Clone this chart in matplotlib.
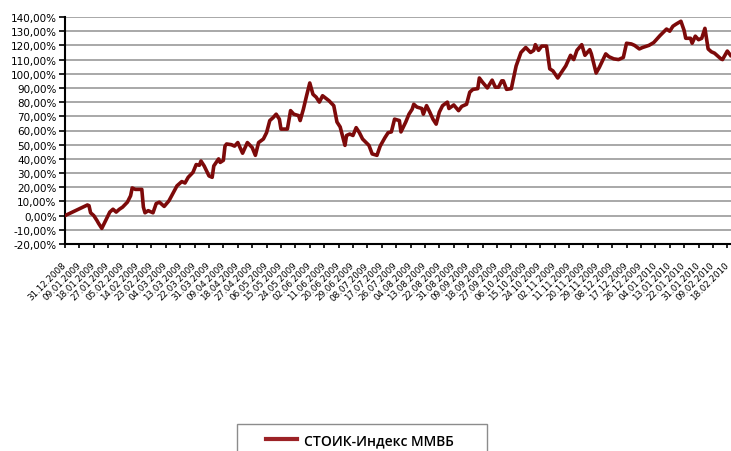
import matplotlib
matplotlib.use("Agg")
from matplotlib import pyplot as plt
from matplotlib import dates as mdates
from matplotlib.patches import Rectangle
from matplotlib.ticker import FuncFormatter, MultipleLocator
import pandas as pd

# values (% change from 31.12.2008)
dates = [
    "2008-12-31", "2009-01-12", "2009-01-14", "2009-01-15", "2009-01-16", "2009-01-18",
    "2009-01-20", "2009-01-21", "2009-01-23", "2009-01-26", "2009-01-28", "2009-01-30",
    "2009-02-01", "2009-02-03", "2009-02-05", "2009-02-08", "2009-02-10", "2009-02-11",
    "2009-02-13", "2009-02-17", "2009-02-18", "2009-02-19", "2009-02-21", "2009-02-24",
    "2009-02-26", "2009-02-28", "2009-03-03", "2009-03-06", "2009-03-10", "2009-03-11",
    "2009-03-14", "2009-03-16", "2009-03-18", "2009-03-21", "2009-03-23", "2009-03-25",
    "2009-03-26", "2009-03-28", "2009-03-31", "2009-04-02", "2009-04-03", "2009-04-06",
    "2009-04-07", "2009-04-09", "2009-04-10", "2009-04-11", "2009-04-14", "2009-04-16",
    "2009-04-18", "2009-04-19", "2009-04-21", "2009-04-24", "2009-04-27", "2009-04-29",
    "2009-05-01", "2009-05-04", "2009-05-06", "2009-05-08", "2009-05-10", "2009-05-12",
    "2009-05-14", "2009-05-15", "2009-05-19", "2009-05-21", "2009-05-23", "2009-05-26",
    "2009-05-27", "2009-05-29", "2009-05-31", "2009-06-02", "2009-06-04", "2009-06-06",
    "2009-06-08", "2009-06-10", "2009-06-14", "2009-06-17", "2009-06-19", "2009-06-21",
    "2009-06-23", "2009-06-24", "2009-06-25", "2009-06-27", "2009-06-29", "2009-07-01",
    "2009-07-03", "2009-07-05", "2009-07-09", "2009-07-11", "2009-07-14", "2009-07-16",
    "2009-07-19", "2009-07-21", "2009-07-23", "2009-07-25", "2009-07-28", "2009-07-29",
    "2009-08-01", "2009-08-03", "2009-08-05", "2009-08-06", "2009-08-08", "2009-08-11",
    "2009-08-12", "2009-08-14", "2009-08-16", "2009-08-18", "2009-08-20", "2009-08-22",
    "2009-08-24", "2009-08-27", "2009-08-28", "2009-08-31", "2009-09-03", "2009-09-05",
    "2009-09-08", "2009-09-10", "2009-09-12", "2009-09-15", "2009-09-16", "2009-09-18",
    "2009-09-21", "2009-09-24", "2009-09-26", "2009-09-28", "2009-09-30", "2009-10-01",
    "2009-10-03", "2009-10-06", "2009-10-07", "2009-10-09", "2009-10-12", "2009-10-15",
    "2009-10-18", "2009-10-20", "2009-10-21", "2009-10-23", "2009-10-25", "2009-10-28",
    "2009-10-30", "2009-11-01", "2009-11-04", "2009-11-06", "2009-11-09", "2009-11-12",
    "2009-11-14", "2009-11-16", "2009-11-19", "2009-11-21", "2009-11-24", "2009-11-25",
    "2009-11-28", "2009-11-30", "2009-12-04", "2009-12-06", "2009-12-09", "2009-12-12",
    "2009-12-15", "2009-12-17", "2009-12-20", "2009-12-22", "2009-12-25", "2009-12-27",
    "2009-12-31", "2010-01-03", "2010-01-07", "2010-01-11", "2010-01-13", "2010-01-15",
    "2010-01-17", "2010-01-20", "2010-01-22", "2010-01-23", "2010-01-26", "2010-01-27",
    "2010-01-29", "2010-01-31", "2010-02-02", "2010-02-04", "2010-02-06", "2010-02-08",
    "2010-02-10", "2010-02-12", "2010-02-14", "2010-02-15", "2010-02-18", "2010-02-20",
]
values = [
    0.0, 6.5, 7.5, 7.0, 2.0, 0.0,
    -3.5, -5.5, -9.0, -2.0, 2.5, 4.5,
    2.5, 4.5, 6.0, 9.5, 14.0, 19.5,
    18.5, 18.5, 6.0, 2.0, 3.5, 2.0,
    8.5, 9.5, 6.5, 10.5, 19.0, 21.0,
    24.0, 23.0, 27.0, 30.5, 36.0, 35.5,
    38.5, 35.0, 28.0, 27.0, 35.0, 40.0,
    37.5, 39.0, 49.0, 50.5, 50.0, 49.0,
    51.5, 49.0, 44.0, 51.5, 48.0, 42.5,
    51.5, 54.0, 58.5, 67.0, 69.0, 71.5,
    68.0, 61.0, 61.0, 74.0, 71.5, 70.5,
    67.0, 75.0, 84.5, 93.5, 85.5, 83.5,
    80.0, 84.5, 81.0, 77.5, 66.0, 62.5,
    54.0, 49.5, 56.5, 57.5, 56.5, 62.0,
    58.5, 54.0, 49.5, 43.5, 42.5, 49.0,
    55.0, 58.5, 59.0, 68.0, 67.0, 59.0,
    66.0, 71.5, 75.0, 78.5, 76.5, 75.5,
    71.5, 77.5, 73.0, 68.0, 64.5, 73.0,
    77.5, 80.0, 75.5, 78.0, 74.0, 77.0,
    78.5, 87.0, 89.0, 89.5, 97.0, 94.0,
    90.0, 95.5, 90.5, 90.5, 95.0, 95.0,
    89.0, 89.5, 95.0, 105.5, 115.0, 118.5,
    115.0, 116.5, 120.5, 116.5, 119.5, 119.5,
    103.5, 102.0, 97.0, 100.5, 105.5, 113.0,
    110.0, 116.5, 120.5, 113.0, 117.0, 114.0,
    100.5, 104.5, 114.0, 112.0, 110.5, 110.0,
    111.5, 121.5, 121.0, 120.0, 117.5, 118.5,
    120.0, 122.0, 127.0, 131.5, 130.0, 133.5,
    135.0, 137.0, 130.5, 125.0, 125.0, 121.5,
    126.5, 124.0, 125.0, 132.0, 117.5, 115.5,
    114.5, 112.5, 110.5, 110.0, 116.0, 113.0,
]
series_name = "СТОИК-Индекс ММВБ"

x = pd.to_datetime(dates)
ticks = pd.date_range("2008-12-31", "2010-02-18", freq="9D")

fig = plt.figure(figsize=(7.31, 4.52), dpi=100)
ax = fig.add_axes([65 / 731, 1 - 245 / 452, 1 - 65 / 731, 227 / 452])

ax.plot(x, values, color="#7d0a0a", lw=2.6, solid_joinstyle="round", zorder=3)

ax.set_ylim(-20, 140)
ax.yaxis.set_major_locator(MultipleLocator(10))
ax.yaxis.set_major_formatter(FuncFormatter(lambda v, p: f"{v:.2f}".replace(".", ",") + "%"))
ax.set_xlim(pd.Timestamp("2008-12-31"), pd.Timestamp("2008-12-31") + pd.Timedelta(days=416.3))
ax.set_xticks(ticks)
ax.xaxis.set_major_formatter(mdates.DateFormatter("%d.%m.%Y"))

ax.grid(axis="y", color="#999999", lw=1.2)
ax.set_axisbelow(True)
for s in ["top", "right"]:
    ax.spines[s].set_visible(False)
for s in ["left", "bottom"]:
    ax.spines[s].set_linewidth(1.5)
    ax.spines[s].set_color("black")

ax.tick_params(axis="y", length=4, width=1.2, labelsize=7.5, pad=2)
ax.tick_params(axis="x", length=3, width=1.2, labelsize=6.3, pad=11)
for lbl in ax.get_xticklabels():
    lbl.set_rotation(45)
    lbl.set_ha("right")
    lbl.set_va("center")
    lbl.set_rotation_mode("anchor")

# legend box at the bottom, cut by the figure edge like in the reference
handle = plt.Line2D([], [], color="#9c2226", lw=3)
fig.legend([handle], [series_name], loc="center", bbox_to_anchor=(360 / 731, 1 - 441 / 452),
           frameon=False, handlelength=2.2, handletextpad=0.5,
           prop={"family": "Open Sans", "weight": "semibold", "size": 10})
fig.add_artist(Rectangle((237 / 731, -0.05), 250 / 731, (452 - 425) / 452 + 0.05,
                         transform=fig.transFigure, fill=False, ec="#8c8c8c", lw=1))

fig.savefig("out.png", dpi=100)
